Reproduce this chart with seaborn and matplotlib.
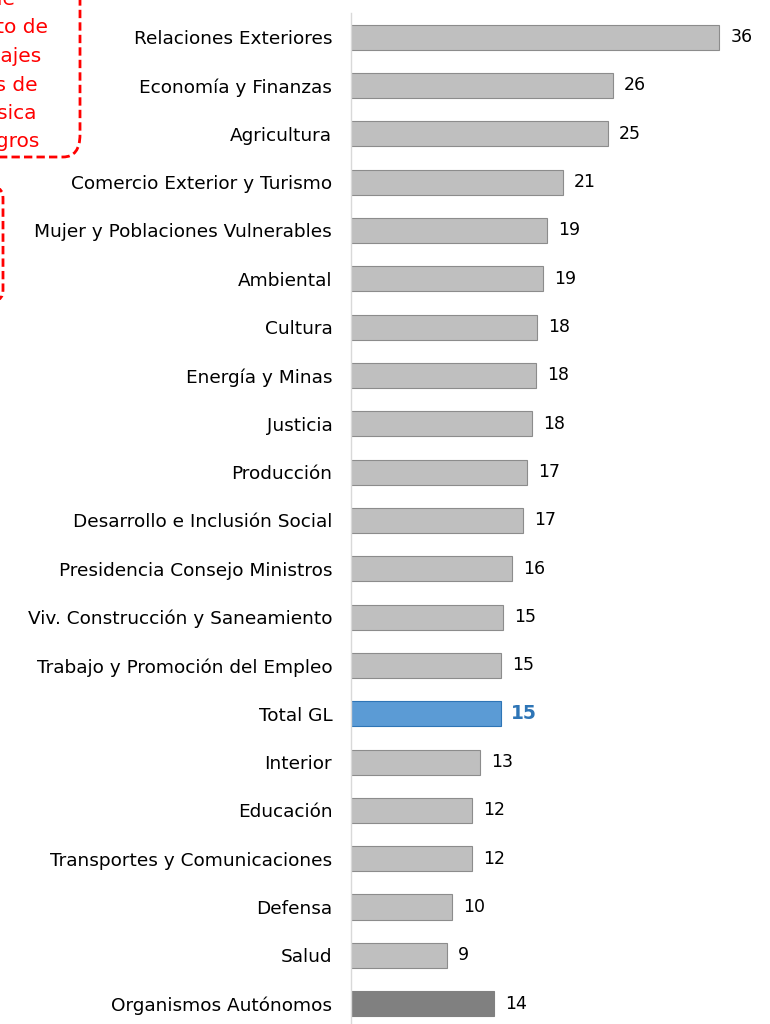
import numpy as np
import pandas as pd
import matplotlib
matplotlib.use("Agg")
import matplotlib.pyplot as plt
import seaborn as sns
from matplotlib.patches import FancyBboxPatch

# datos
sectores = ["Relaciones Exteriores", "Economía y Finanzas", "Agricultura",
            "Comercio Exterior y Turismo", "Mujer y Poblaciones Vulnerables",
            "Ambiental", "Cultura", "Energía y Minas", "Justicia", "Producción",
            "Desarrollo e Inclusión Social", "Presidencia Consejo Ministros",
            "Viv. Construcción y Saneamiento", "Trabajo y Promoción del Empleo",
            "Total GL", "Interior", "Educación", "Transportes y Comunicaciones",
            "Defensa", "Salud", "Organismos Autónomos"]
valores = [36.0, 25.6, 25.1, 20.7, 19.2, 18.8, 18.2, 18.1, 17.7, 17.2,
           16.8, 15.7, 14.9, 14.7, 14.7, 12.6, 11.8, 11.8, 9.9, 9.4, 14.0]

# texto del recuadro rojo (recortado por el borde)
nota_lineas = ["promedio simple", "cumplimiento de", "porcentajes",
               "metas de", "ejecución física", "logros"]

df = pd.DataFrame({"sector": sectores, "valor": valores})

colores = []
bordes = []
for s in sectores:
    if s == "Total GL":
        colores.append("#5b9bd5"); bordes.append("#2e75b6")
    elif s == "Organismos Autónomos":
        colores.append("#808080"); bordes.append("#808080")
    else:
        colores.append("#bfbfbf"); bordes.append("#8c8c8c")

sns.set_style("white")
plt.rcParams["font.family"] = ["DejaVu Sans"]

fig = plt.figure(figsize=(7.7, 10.24), dpi=100)
ax = fig.add_axes([351 / 770, 0.0, 409 / 770, (1024 - 13) / 1024])

sns.barplot(data=df, x="valor", y="sector", hue="sector", palette=colores,
            legend=False, width=0.52, ax=ax, saturation=1)

for patch, ec in zip(ax.patches, bordes):
    patch.set_edgecolor(ec)
    patch.set_linewidth(0.8)

# etiquetas de valores
for cont, s in zip(ax.containers, sectores):
    if s == "Total GL":
        ax.bar_label(cont, fmt="%.0f", padding=7, fontsize=13.5,
                     fontweight="bold", color="#2e75b6")
    else:
        ax.bar_label(cont, fmt="%.0f", padding=8, fontsize=12.5, color="black")

ax.set_xlim(0, 40)
ax.set_ylim(20.42, -0.5)
ax.set_xlabel("")
ax.set_ylabel("")
ax.set_xticks([])
ax.tick_params(axis="y", length=0, pad=13.5, labelsize=13.3)
for lab in ax.get_yticklabels():
    lab.set_color("black")
for sp in ["top", "right", "bottom"]:
    ax.spines[sp].set_visible(False)
ax.spines["left"].set_color("#d9d9d9")
ax.spines["left"].set_linewidth(1)

# recuadros rojos (recortados en el borde)
H = 1024
W = 770
caja1 = FancyBboxPatch((-150 / W, (H - 157) / H), 230 / W, 200 / H,
                       boxstyle="round,pad=0,rounding_size=0.022",
                       transform=fig.transFigure, fill=False, edgecolor="red",
                       linestyle=(0, (3, 1.5)), linewidth=2, clip_on=False)
fig.patches.append(caja1)
caja2 = FancyBboxPatch((-150 / W, (H - 300) / H), 153 / W, 112 / H,
                       boxstyle="round,pad=0,rounding_size=0.01",
                       transform=fig.transFigure, fill=False, edgecolor="red",
                       linestyle=(0, (3, 1.5)), linewidth=2, clip_on=False)
fig.patches.append(caja2)

x_fin = [15, 48, 41, 38, 37, 39]
y_base = [5, 33, 62, 91, 119, 147]
for txt, xf, yb in zip(nota_lineas, x_fin, y_base):
    fig.text(xf / W, (H - yb) / H, txt, ha="right", va="baseline",
             color="red", fontsize=14.5)

fig.savefig("out.png", dpi=100)
